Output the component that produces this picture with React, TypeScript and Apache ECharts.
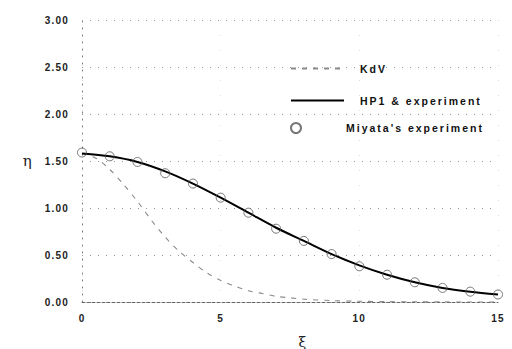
import React, { useEffect, useRef } from "react";
import * as echarts from "echarts";

// ξ positions and η values
const kdvXi = [0, 0.5, 1, 1.5, 2, 2.5, 3, 3.5, 4, 4.5, 5, 5.5, 6, 6.5, 7, 7.5, 8, 9, 10, 11, 12, 13, 14, 15];
const kdvEta = [1.58, 1.53, 1.41, 1.25, 1.07, 0.87, 0.69, 0.54, 0.42, 0.31, 0.23, 0.17, 0.12, 0.09, 0.06, 0.045, 0.03, 0.015, 0.008, 0.004, 0.002, 0.001, 0, 0];

const hp1Xi = [0, 1, 2, 3, 4, 5, 6, 7, 8, 9, 10, 11, 12, 13, 14, 15];
const hp1Eta = [1.58, 1.55, 1.49, 1.39, 1.26, 1.11, 0.95, 0.79, 0.65, 0.51, 0.39, 0.29, 0.21, 0.15, 0.11, 0.08];

const miyataXi = [0, 1, 2, 3, 4, 5, 6, 7, 8, 9, 10, 11, 12, 13, 14, 15];
const miyataEta = [1.59, 1.55, 1.49, 1.37, 1.26, 1.11, 0.95, 0.78, 0.65, 0.51, 0.38, 0.29, 0.21, 0.15, 0.11, 0.08];

const xTicks = [0, 5, 10, 15];
const yTicks = [0, 0.5, 1, 1.5, 2, 2.5, 3];

const seriesNames = ["KdV", "HP1 & experiment", "Miyata's experiment"];

const FONT = "'Liberation Sans', Arial, sans-serif";

export default function App() {
  const ref = useRef<HTMLDivElement>(null);

  useEffect(() => {
    document.body.style.margin = "0";
    const chart = echarts.init(ref.current!, null, { renderer: "svg" });
    const legendText = { fontFamily: FONT, fontSize: 10.5, fontWeight: "bold", color: "#111" };
    const hiddenSymbol = { color: "transparent", borderWidth: 0, opacity: 0 };
    chart.setOption({
      animation: false,
      backgroundColor: "#fff",
      grid: { left: 82, right: 14, top: 20, bottom: 47, containLabel: false, outerBoundsMode: "none" },
      xAxis: {
        type: "value",
        min: 0,
        max: 15,
        interval: 5,
        name: "ξ",
        nameLocation: "middle",
        nameGap: 33,
        nameTextStyle: { fontFamily: "'DejaVu Serif', serif", fontSize: 14, color: "#222", padding: [0, 0, 0, 26] },
        axisLine: { show: true, lineStyle: { color: "#666", type: [3, 2], width: 1 } },
        axisTick: { show: false },
        axisLabel: {
          margin: 11,
          fontFamily: FONT,
          fontSize: 10,
          fontWeight: "bold",
          color: "#222",
          formatter: (v: number) => (xTicks.includes(v) ? String(v) : ""),
        },
        splitLine: { show: true, lineStyle: { color: "#dcdcdc", type: [1, 14], width: 1 } },
      },
      yAxis: {
        type: "value",
        min: 0,
        max: 3,
        interval: 0.5,
        name: "η",
        nameLocation: "middle",
        nameRotate: 0,
        nameGap: 49,
        nameTextStyle: { fontFamily: "'DejaVu Serif', serif", fontSize: 15, color: "#222" },
        axisLine: { show: true, lineStyle: { color: "#777", type: [1, 6], width: 1 } },
        axisTick: { show: false },
        axisLabel: {
          margin: 13,
          fontFamily: FONT,
          fontSize: 10,
          fontWeight: "bold",
          color: "#222",
          formatter: (v: number) => (yTicks.includes(v) ? v.toFixed(2) : ""),
        },
        splitLine: { show: true, lineStyle: { color: "#9a9a9a", type: [1, 7], width: 1 } },
      },
      legend: [
        {
          data: [seriesNames[0]],
          left: 290,
          top: 63,
          padding: 0,
          itemWidth: 53,
          itemHeight: 10,
          itemStyle: hiddenSymbol,
          textStyle: { ...legendText, padding: [0, 0, 0, 11] },
        },
        {
          data: [seriesNames[1]],
          left: 290,
          top: 95,
          padding: 0,
          itemWidth: 53,
          itemHeight: 10,
          itemStyle: hiddenSymbol,
          textStyle: { ...legendText, padding: [0, 0, 0, 11] },
        },
        {
          data: [seriesNames[2]],
          left: 290,
          top: 122,
          padding: 0,
          itemWidth: 38,
          itemHeight: 10,
          textStyle: { ...legendText, padding: [0, 0, 0, 26] },
        },
      ],
      series: [
        {
          name: seriesNames[0],
          type: "line",
          data: kdvXi.map((x, i) => [x, kdvEta[i]]),
          smooth: 0.3,
          symbol: "none",
          lineStyle: { color: "#8a8a8a", width: 1.1, type: [5, 6] },
          itemStyle: { color: "#8a8a8a" },
          z: 2,
        },
        {
          name: seriesNames[1],
          type: "line",
          data: hp1Xi.map((x, i) => [x, hp1Eta[i]]),
          smooth: 0.3,
          symbol: "none",
          lineStyle: { color: "#000", width: 2 },
          itemStyle: { color: "#000" },
          z: 3,
        },
        {
          name: seriesNames[2],
          type: "scatter",
          data: miyataXi.map((x, i) => [x, miyataEta[i]]),
          symbol: "circle",
          symbolSize: 9,
          itemStyle: { color: "transparent", borderColor: "#555", borderWidth: 1 },
          z: 4,
        },
      ],
    });
    return () => chart.dispose();
  }, []);

  return (
    <div>
      <style>{'#chart text{letter-spacing:1.2px} #chart text[style*="10.5px"]{letter-spacing:2px}'}</style>
      <div id="chart" ref={ref} style={{ width: 512, height: 349 }} />
    </div>
  );
}
